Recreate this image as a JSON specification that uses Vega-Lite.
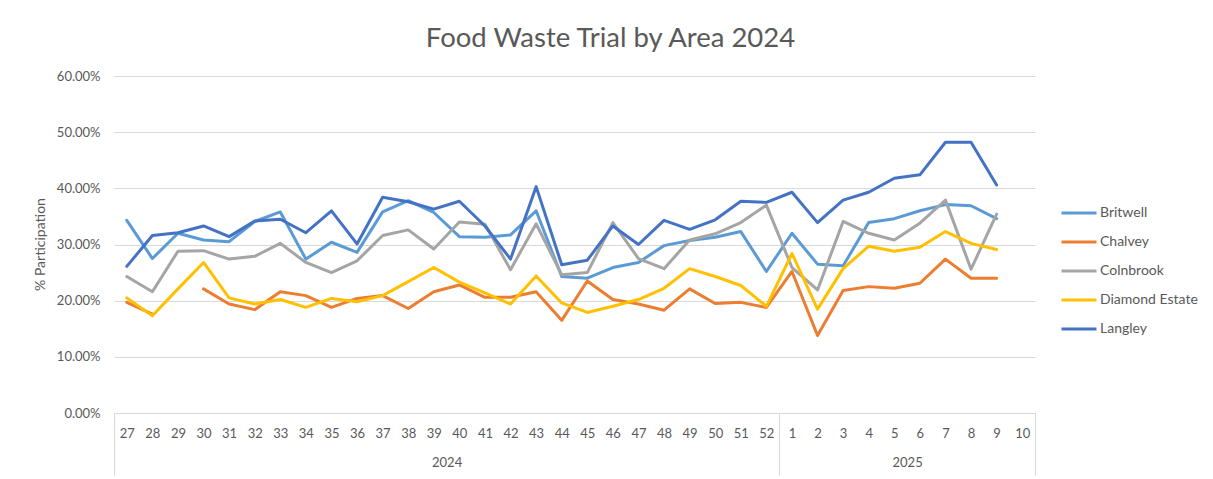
{
  "$schema": "https://vega.github.io/schema/vega-lite/v6.json",
  "autosize": "none",
  "width": 921,
  "height": 337,
  "padding": {"left": 114, "top": 76, "right": 178, "bottom": 66},
  "background": "white",
  "config": {
    "view": {"stroke": null},
    "font": "Lato",
    "axis": {"labelFont": "Lato", "titleFont": "Lato", "labelColor": "#595959", "titleColor": "#595959", "labelFontSize": 13},
    "legend": {"labelFont": "Lato"}
  },
  "title": {
    "text": "Food Waste Trial by Area 2024",
    "fontSize": 27.5,
    "font": "Lato",
    "fontWeight": "normal",
    "color": "#595959",
    "anchor": "middle",
    "frame": "group",
    "dx": 36,
    "offset": 18
  },
  "datasets": {
    "main": [
      {"s":"Britwell","i":0,"v":0.343},{"s":"Britwell","i":1,"v":0.275},{"s":"Britwell","i":2,"v":0.320},{"s":"Britwell","i":3,"v":0.308},{"s":"Britwell","i":4,"v":0.305},{"s":"Britwell","i":5,"v":0.341},{"s":"Britwell","i":6,"v":0.358},{"s":"Britwell","i":7,"v":0.274},{"s":"Britwell","i":8,"v":0.304},{"s":"Britwell","i":9,"v":0.286},{"s":"Britwell","i":10,"v":0.358},{"s":"Britwell","i":11,"v":0.378},{"s":"Britwell","i":12,"v":0.357},{"s":"Britwell","i":13,"v":0.314},{"s":"Britwell","i":14,"v":0.313},{"s":"Britwell","i":15,"v":0.317},{"s":"Britwell","i":16,"v":0.360},{"s":"Britwell","i":17,"v":0.243},{"s":"Britwell","i":18,"v":0.240},{"s":"Britwell","i":19,"v":0.259},{"s":"Britwell","i":20,"v":0.268},{"s":"Britwell","i":21,"v":0.298},{"s":"Britwell","i":22,"v":0.307},{"s":"Britwell","i":23,"v":0.313},{"s":"Britwell","i":24,"v":0.323},{"s":"Britwell","i":25,"v":0.252},{"s":"Britwell","i":26,"v":0.320},{"s":"Britwell","i":27,"v":0.265},{"s":"Britwell","i":28,"v":0.262},{"s":"Britwell","i":29,"v":0.339},{"s":"Britwell","i":30,"v":0.346},{"s":"Britwell","i":31,"v":0.360},{"s":"Britwell","i":32,"v":0.371},{"s":"Britwell","i":33,"v":0.369},{"s":"Britwell","i":34,"v":0.346},
      {"s":"Chalvey","i":0,"v":0.197},{"s":"Chalvey","i":1,"v":0.176},{"s":"Chalvey","i":2,"v":null},{"s":"Chalvey","i":3,"v":0.221},{"s":"Chalvey","i":4,"v":0.194},{"s":"Chalvey","i":5,"v":0.184},{"s":"Chalvey","i":6,"v":0.216},{"s":"Chalvey","i":7,"v":0.209},{"s":"Chalvey","i":8,"v":0.188},{"s":"Chalvey","i":9,"v":0.204},{"s":"Chalvey","i":10,"v":0.209},{"s":"Chalvey","i":11,"v":0.186},{"s":"Chalvey","i":12,"v":0.216},{"s":"Chalvey","i":13,"v":0.228},{"s":"Chalvey","i":14,"v":0.206},{"s":"Chalvey","i":15,"v":0.206},{"s":"Chalvey","i":16,"v":0.216},{"s":"Chalvey","i":17,"v":0.165},{"s":"Chalvey","i":18,"v":0.235},{"s":"Chalvey","i":19,"v":0.202},{"s":"Chalvey","i":20,"v":0.194},{"s":"Chalvey","i":21,"v":0.183},{"s":"Chalvey","i":22,"v":0.221},{"s":"Chalvey","i":23,"v":0.195},{"s":"Chalvey","i":24,"v":0.197},{"s":"Chalvey","i":25,"v":0.188},{"s":"Chalvey","i":26,"v":0.252},{"s":"Chalvey","i":27,"v":0.138},{"s":"Chalvey","i":28,"v":0.218},{"s":"Chalvey","i":29,"v":0.225},{"s":"Chalvey","i":30,"v":0.222},{"s":"Chalvey","i":31,"v":0.231},{"s":"Chalvey","i":32,"v":0.274},{"s":"Chalvey","i":33,"v":0.240},{"s":"Chalvey","i":34,"v":0.240},
      {"s":"Colnbrook","i":0,"v":0.243},{"s":"Colnbrook","i":1,"v":0.216},{"s":"Colnbrook","i":2,"v":0.288},{"s":"Colnbrook","i":3,"v":0.289},{"s":"Colnbrook","i":4,"v":0.274},{"s":"Colnbrook","i":5,"v":0.279},{"s":"Colnbrook","i":6,"v":0.302},{"s":"Colnbrook","i":7,"v":0.268},{"s":"Colnbrook","i":8,"v":0.250},{"s":"Colnbrook","i":9,"v":0.271},{"s":"Colnbrook","i":10,"v":0.316},{"s":"Colnbrook","i":11,"v":0.326},{"s":"Colnbrook","i":12,"v":0.292},{"s":"Colnbrook","i":13,"v":0.340},{"s":"Colnbrook","i":14,"v":0.336},{"s":"Colnbrook","i":15,"v":0.255},{"s":"Colnbrook","i":16,"v":0.337},{"s":"Colnbrook","i":17,"v":0.246},{"s":"Colnbrook","i":18,"v":0.250},{"s":"Colnbrook","i":19,"v":0.339},{"s":"Colnbrook","i":20,"v":0.275},{"s":"Colnbrook","i":21,"v":0.257},{"s":"Colnbrook","i":22,"v":0.308},{"s":"Colnbrook","i":23,"v":0.319},{"s":"Colnbrook","i":24,"v":0.339},{"s":"Colnbrook","i":25,"v":0.370},{"s":"Colnbrook","i":26,"v":0.259},{"s":"Colnbrook","i":27,"v":0.219},{"s":"Colnbrook","i":28,"v":0.341},{"s":"Colnbrook","i":29,"v":0.320},{"s":"Colnbrook","i":30,"v":0.308},{"s":"Colnbrook","i":31,"v":0.338},{"s":"Colnbrook","i":32,"v":0.379},{"s":"Colnbrook","i":33,"v":0.256},{"s":"Colnbrook","i":34,"v":0.354},
      {"s":"Diamond Estate","i":0,"v":0.205},{"s":"Diamond Estate","i":1,"v":0.173},{"s":"Diamond Estate","i":2,"v":0.221},{"s":"Diamond Estate","i":3,"v":0.268},{"s":"Diamond Estate","i":4,"v":0.205},{"s":"Diamond Estate","i":5,"v":0.194},{"s":"Diamond Estate","i":6,"v":0.202},{"s":"Diamond Estate","i":7,"v":0.188},{"s":"Diamond Estate","i":8,"v":0.204},{"s":"Diamond Estate","i":9,"v":0.198},{"s":"Diamond Estate","i":10,"v":0.209},{"s":"Diamond Estate","i":11,"v":0.234},{"s":"Diamond Estate","i":12,"v":0.259},{"s":"Diamond Estate","i":13,"v":0.233},{"s":"Diamond Estate","i":14,"v":0.214},{"s":"Diamond Estate","i":15,"v":0.194},{"s":"Diamond Estate","i":16,"v":0.244},{"s":"Diamond Estate","i":17,"v":0.196},{"s":"Diamond Estate","i":18,"v":0.179},{"s":"Diamond Estate","i":19,"v":0.190},{"s":"Diamond Estate","i":20,"v":0.202},{"s":"Diamond Estate","i":21,"v":0.222},{"s":"Diamond Estate","i":22,"v":0.257},{"s":"Diamond Estate","i":23,"v":0.243},{"s":"Diamond Estate","i":24,"v":0.227},{"s":"Diamond Estate","i":25,"v":0.190},{"s":"Diamond Estate","i":26,"v":0.284},{"s":"Diamond Estate","i":27,"v":0.185},{"s":"Diamond Estate","i":28,"v":0.257},{"s":"Diamond Estate","i":29,"v":0.297},{"s":"Diamond Estate","i":30,"v":0.288},{"s":"Diamond Estate","i":31,"v":0.295},{"s":"Diamond Estate","i":32,"v":0.323},{"s":"Diamond Estate","i":33,"v":0.302},{"s":"Diamond Estate","i":34,"v":0.291},
      {"s":"Langley","i":0,"v":0.261},{"s":"Langley","i":1,"v":0.316},{"s":"Langley","i":2,"v":0.321},{"s":"Langley","i":3,"v":0.333},{"s":"Langley","i":4,"v":0.314},{"s":"Langley","i":5,"v":0.342},{"s":"Langley","i":6,"v":0.345},{"s":"Langley","i":7,"v":0.321},{"s":"Langley","i":8,"v":0.360},{"s":"Langley","i":9,"v":0.301},{"s":"Langley","i":10,"v":0.384},{"s":"Langley","i":11,"v":0.376},{"s":"Langley","i":12,"v":0.363},{"s":"Langley","i":13,"v":0.377},{"s":"Langley","i":14,"v":0.333},{"s":"Langley","i":15,"v":0.274},{"s":"Langley","i":16,"v":0.403},{"s":"Langley","i":17,"v":0.264},{"s":"Langley","i":18,"v":0.272},{"s":"Langley","i":19,"v":0.333},{"s":"Langley","i":20,"v":0.300},{"s":"Langley","i":21,"v":0.343},{"s":"Langley","i":22,"v":0.327},{"s":"Langley","i":23,"v":0.344},{"s":"Langley","i":24,"v":0.377},{"s":"Langley","i":25,"v":0.375},{"s":"Langley","i":26,"v":0.393},{"s":"Langley","i":27,"v":0.339},{"s":"Langley","i":28,"v":0.379},{"s":"Langley","i":29,"v":0.393},{"s":"Langley","i":30,"v":0.418},{"s":"Langley","i":31,"v":0.424},{"s":"Langley","i":32,"v":0.482},{"s":"Langley","i":33,"v":0.482},{"s":"Langley","i":34,"v":0.406}
    ],
    "years": [{"mid": 12.5, "year": "2024"}, {"mid": 30.5, "year": "2025"}],
    "bounds": [{"b": -0.5}, {"b": 25.5}, {"b": 35.5}]
  },
  "resolve": {"scale": {"x": "independent"}, "axis": {"x": "independent"}},
  "layer": [
    {
      "data": {"name": "bounds"},
      "mark": {"type": "rule", "opacity": 0},
      "encoding": {
        "x": {
          "field": "b", "type": "quantitative",
          "scale": {"domain": [-0.5, 35.5], "nice": false, "zero": false},
          "axis": {"orient": "bottom", "values": [-0.5, 25.5, 35.5], "labels": false, "domain": false, "grid": false, "ticks": true, "tickSize": 62, "tickColor": "#d9d9d9", "tickWidth": 1, "title": null}
        }
      }
    },
    {
      "data": {"name": "years"},
      "mark": {"type": "rule", "opacity": 0},
      "encoding": {
        "x": {
          "field": "mid", "type": "quantitative",
          "scale": {"domain": [-0.5, 35.5], "nice": false, "zero": false},
          "axis": {"orient": "bottom", "values": [12.5, 30.5], "labelExpr": "datum.value < 20 ? '2024' : '2025'", "ticks": false, "domain": false, "grid": false, "labelPadding": 43, "labelFontSize": 13, "title": null}
        }
      }
    },
    {
      "data": {"name": "main"},
      "mark": {"type": "line", "strokeWidth": 3, "strokeJoin": "round", "strokeCap": "round", "invalid": "break-paths-show-domains"},
      "encoding": {
        "x": {
          "field": "i", "type": "quantitative",
          "scale": {"domain": [-0.5, 35.5], "nice": false, "zero": false},
          "axis": {"orient": "bottom", "values": [0,1,2,3,4,5,6,7,8,9,10,11,12,13,14,15,16,17,18,19,20,21,22,23,24,25,26,27,28,29,30,31,32,33,34,35], "labelExpr": "datum.value < 26 ? datum.value + 27 : datum.value - 25", "labelOverlap": false, "labelFlush": false, "ticks": false, "grid": false, "domain": true, "domainColor": "#d9d9d9", "domainWidth": 1, "labelPadding": 14, "title": null}
        },
        "y": {
          "field": "v", "type": "quantitative",
          "scale": {"domain": [0, 0.6], "nice": false},
          "axis": {"values": [0, 0.1, 0.2, 0.3, 0.4, 0.5, 0.6], "format": ".2%", "grid": true, "gridColor": "#d9d9d9", "gridWidth": 1, "domain": false, "ticks": false, "labelPadding": 14, "title": "% Participation", "titleFontSize": 14, "titleFontWeight": "normal", "titleX": -74, "titleY": 168, "titleAngle": -90, "titleAlign": "center", "titleBaseline": "middle"}
        },
        "color": {
          "field": "s", "type": "nominal",
          "scale": {"domain": ["Britwell", "Chalvey", "Colnbrook", "Diamond Estate", "Langley"], "range": ["#5B9BD5", "#ED7D31", "#A5A5A5", "#FFC000", "#4472C4"]},
          "legend": {"title": null, "orient": "none", "legendX": 946, "legendY": 118, "symbolType": "stroke", "symbolSize": 1225, "symbolStrokeWidth": 3, "labelFontSize": 14, "labelColor": "#595959", "labelOffset": 2, "rowPadding": 3}
        }
      }
    }
  ]
}
